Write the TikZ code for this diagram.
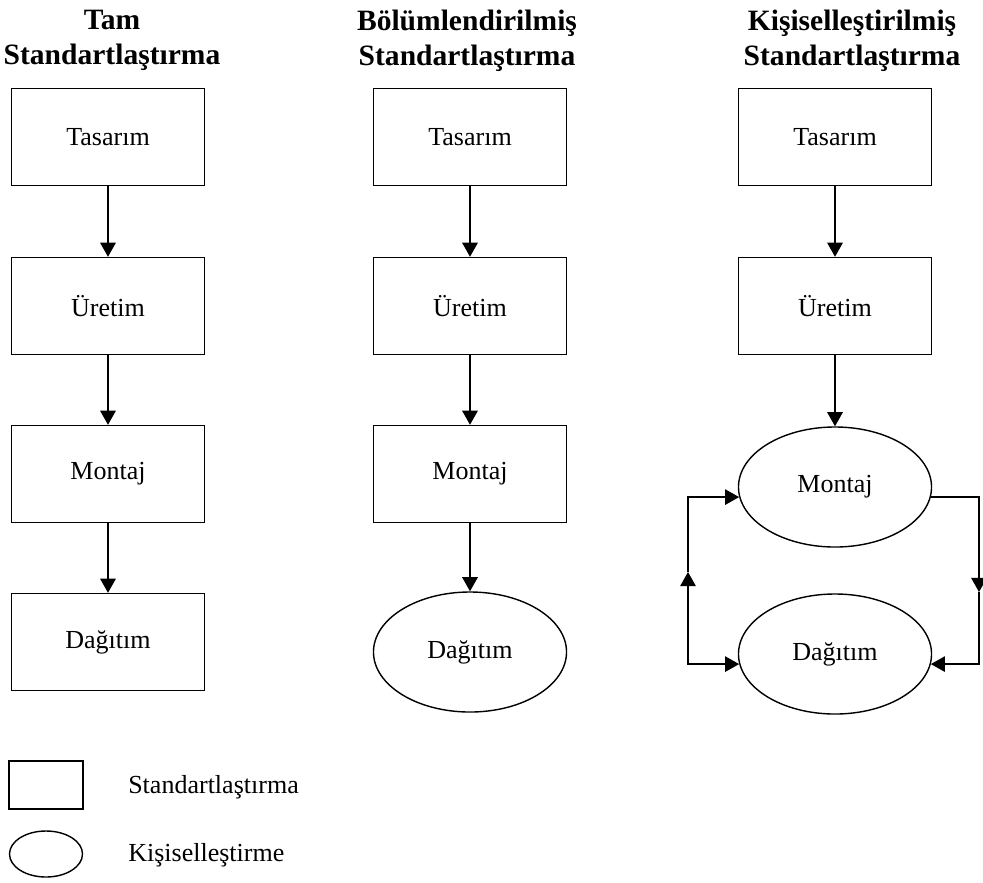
\documentclass[tikz,border=0pt]{standalone}
\usepackage{fontspec}
\setmainfont{Liberation Serif}
\usepackage{tikz}
\usetikzlibrary{arrows.meta,shapes.geometric}

\begin{document}
\begin{tikzpicture}[x=0.025cm, y=-0.025cm,
  >={Triangle[length=10pt,width=11pt]},
  kutu/.style={rectangle, draw, line width=1pt, minimum width=4.825cm, minimum height=2.425cm, font=\fontsize{18.5}{22}\selectfont},
  elips/.style={ellipse, draw, line width=1pt, minimum width=4.825cm, minimum height=3cm, inner sep=0pt, font=\fontsize{18.5}{22}\selectfont},
  baslik/.style={align=center, anchor=north, inner sep=0pt, font=\bfseries\fontsize{21}{25}\selectfont},
  etiket/.style={anchor=west, inner sep=0pt, font=\fontsize{18.5}{22}\selectfont},
  ok/.style={->, line width=1pt}]
\useasboundingbox (0,0) rectangle (983,882);

% basliklar
\node[baslik] (h1) at (112,10) {Tam\\Standartlaştırma};
\node[baslik] (h2) at (467,10) {Bölümlendirilmiş\\Standartlaştırma};
\node[baslik] (h3) at (852,10) {Kişiselleştirilmiş\\Standartlaştırma};

% tam standartlastirma
\node[kutu] (t1) at (108,137) {Tasarım};
\node[kutu] (u1) at (108,306) {Üretim};
\node[kutu] (m1) at (108,474) {Montaj};
\node[kutu] (d1) at (108,642) {Dağıtım};
\draw[ok] (t1) -- (u1);
\draw[ok] (u1) -- (m1);
\draw[ok] (m1) -- (d1);

% bolumlendirilmis standartlastirma
\node[kutu] (t2) at (470,137) {Tasarım};
\node[kutu] (u2) at (470,306) {Üretim};
\node[kutu] (m2) at (470,474) {Montaj};
\node[elips] (d2) at (470,652) {Dağıtım};
\draw[ok] (t2) -- (u2);
\draw[ok] (u2) -- (m2);
\draw[ok] (m2) -- (d2);

% kisisellestirilmis standartlastirma
\node[kutu] (t3) at (835,137) {Tasarım};
\node[kutu] (u3) at (835,306) {Üretim};
\node[elips] (m3) at (835,487) {Montaj};
\node[elips] (d3) at (835,654) {Dağıtım};
\draw[ok] (t3) -- (u3);
\draw[ok] (u3) -- (m3);
\coordinate (lmid) at (688,572);
\coordinate (rmid) at (979,592);
\draw[ok, <->] (d3.186) -| (lmid);
\draw[ok] (lmid) |- (m3.186);
\draw[ok] (m3.354) -| (rmid);
\draw[ok] (rmid) |- (d3.354);

% aciklama
\node[rectangle, draw, line width=1pt, minimum width=1.85cm, minimum height=1.2cm] (lk) at (46,785) {};
\node[ellipse, draw, line width=1pt, minimum width=1.825cm, minimum height=1.15cm] (le) at (46,854) {};
\node[etiket] (lkt) at (128,787) {Standartlaştırma};
\node[etiket] (let) at (128,855) {Kişiselleştirme};
\end{tikzpicture}
\end{document}
